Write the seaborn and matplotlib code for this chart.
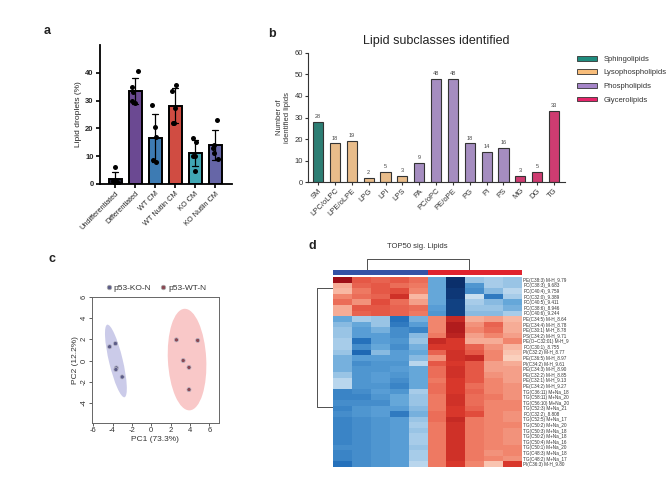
import numpy as np
import pandas as pd
import matplotlib
matplotlib.use("Agg")
import matplotlib.pyplot as plt
import seaborn as sns
from matplotlib.patches import Ellipse, Patch
from matplotlib.colors import ListedColormap, LinearSegmentedColormap
from matplotlib.lines import Line2D

sns.set_theme(style="white")
plt.rcParams['font.family'] = ['Liberation Sans', 'DejaVu Sans']
plt.rcParams['axes.unicode_minus'] = False

# ---------------- data: panel a ----------------
a_groups = ["Undifferentiated", "Differentiated", "WT CM", "WT Nutlin CM", "KO CM", "KO Nutlin CM"]
a_points = [
    [6, 1, 1, 0.5, 0.5],
    [40.5, 35, 33, 30, 29],
    [28.5, 20.5, 17, 8.5, 8],
    [35.5, 33.5, 27.5, 22, 22],
    [16.5, 15, 10, 10, 4.5],
    [23, 14, 13, 11, 9],
]
a_colors = ["#1c1c3c", "#6a3d9e", "#2a7cc6", "#e8382a", "#2cb6c8", "#5b5bb2"]

# ---------------- data: panel b ----------------
b_classes = ["SM", "LPC/oLPC", "LPE/oLPE", "LPG", "LPI", "LPS", "PA", "PC/oPC",
             "PE/oPE", "PG", "PI", "PS", "MG", "DG", "TG"]
b_counts = [28, 18, 19, 2, 5, 3, 9, 48, 48, 18, 14, 16, 3, 5, 33]
b_category = ["Sphingolipids", "Lysophospholipids", "Lysophospholipids", "Lysophospholipids",
              "Lysophospholipids", "Lysophospholipids", "Phospholipids", "Phospholipids",
              "Phospholipids", "Phospholipids", "Phospholipids", "Phospholipids",
              "Glycerolipids", "Glycerolipids", "Glycerolipids"]
b_cat_order = ["Sphingolipids", "Lysophospholipids", "Phospholipids", "Glycerolipids"]
b_cat_colors = ["#1f8c7e", "#f8bd7a", "#a585c8", "#e6246a"]

# ---------------- data: panel c ----------------
c_ko_pc1 = [-4.3, -3.7, -3.6, -3.65, -3.0]
c_ko_pc2 = [1.3, 1.6, -0.7, -0.85, -1.55]
c_wt_pc1 = [2.6, 4.8, 3.3, 3.9, 3.9]
c_wt_pc2 = [1.95, 1.9, 0.0, -0.65, -2.75]
c_groups = ["p53-KO-N", "p53-WT-N"]
c_point_colors = ["#5c5c88", "#8a4852"]
c_ellipse_colors = ["#cbcbe9", "#f9c8c8"]

# ---------------- data: panel d ----------------
d_rows = [
    "PE(C38:3) M-H_9.79", "PC(C38:3)_9.683", "PC(C40:4)_9.759", "PC(C32:0)_9.389",
    "PC(C40:5)_9.411", "PC(C38:6)_8.946", "PC(C40:6)_9.244", "PE(C34:5) M-H_8.64",
    "PE(C34:4) M-H_8.78", "PE(C30:1) M-H_8.78", "PS(C34:2) M-H_9.71", "PE(O\u2212C32:01) M-H_9",
    "PC(C30:1)_8.755", "PI(C32:2) M-H_8.77", "PE(C36:5) M-H_8.97", "PI(C34:2) M-H_9.61",
    "PE(C34:3) M-H_8.90", "PE(C32:2) M-H_8.85", "PE(C32:1) M-H_9.13", "PE(C34:2) M-H_9.27",
    "TG(C36:11) M+Na_18", "TG(C58:11) M+Na_20", "TG(C56:10) M+Na_20", "TG(C52:3) M+Na_21",
    "PC(C32:2)_8.808", "TG(C52:5) M+Na_17", "TG(C50:2) M+Na_20", "TG(C50:3) M+Na_18",
    "TG(C50:2) M+Na_18", "TG(C50:4) M+Na_16", "TG(C50:1) M+Na_20", "TG(C48:3) M+Na_18",
    "TG(C48:2) M+Na_17", "PI(C36:3) M-H_9.80",
]
d_values = [
    [2.2, 1.3, 1.2, 1.3, 1.1, -0.9, -2.2, -0.6, -0.5, -0.6],
    [0.6, 1.2, 1.3, 1.1, 1.0, -0.9, -2.2, -1.1, -0.5, -0.6],
    [0.5, 1.0, 1.3, 1.4, 0.9, -0.9, -2.1, -1.2, -0.7, -0.4],
    [0.9, 1.1, 1.2, 1.7, 0.5, -0.9, -2.1, -0.3, -1.4, -0.5],
    [1.1, 0.8, 1.4, 1.1, 0.7, -0.9, -2.0, -0.5, -0.7, -0.9],
    [0.6, 1.3, 1.3, 1.2, 1.1, -1.0, -2.0, -0.6, -0.6, -0.8],
    [0.6, 1.2, 1.3, 1.2, 1.0, -1.1, -2.0, -0.7, -0.7, -0.5],
    [-0.9, -0.5, -0.6, -1.5, -0.8, 0.9, 1.8, 0.6, 0.7, 0.5],
    [-0.7, -0.9, -0.6, -1.4, -1.0, 0.9, 2.0, 0.8, 1.2, 0.6],
    [-0.6, -1.0, -0.8, -1.2, -1.3, 0.9, 2.0, 0.9, 1.1, 0.6],
    [-0.6, -1.0, -1.0, -1.2, -0.7, 1.0, 1.9, 0.7, 0.9, 0.7],
    [-0.5, -1.5, -1.0, -1.1, -0.6, 1.8, 1.6, 0.6, 0.6, 0.9],
    [-0.5, -1.2, -0.9, -1.2, -0.8, 1.6, 1.6, 1.2, 0.8, 0.5],
    [-0.6, -1.6, -0.7, -1.0, -0.9, 1.2, 1.7, 1.3, 0.9, 0.4],
    [-0.8, -1.0, -1.0, -1.0, -0.7, 0.8, 1.7, 1.8, 0.9, 0.3],
    [-0.8, -1.2, -1.1, -1.1, -0.4, 1.3, 1.6, 1.3, 0.7, 0.6],
    [-0.8, -1.1, -1.1, -1.0, -0.9, 1.1, 1.7, 1.3, 0.7, 0.7],
    [-0.6, -1.1, -1.0, -1.1, -0.9, 1.1, 1.7, 1.3, 0.8, 0.7],
    [-0.4, -1.1, -1.0, -1.2, -0.9, 1.0, 1.6, 1.3, 0.9, 0.7],
    [-0.4, -1.1, -1.1, -1.3, -0.9, 1.1, 1.6, 1.1, 0.9, 0.8],
    [-1.3, -1.2, -1.0, -1.1, -0.5, 1.1, 1.6, 1.2, 0.9, 0.8],
    [-1.3, -1.3, -1.1, -0.9, -0.6, 1.0, 1.7, 1.1, 1.0, 0.8],
    [-1.2, -1.2, -1.2, -0.9, -0.6, 1.0, 1.7, 1.1, 0.9, 0.9],
    [-1.3, -1.1, -1.0, -1.0, -0.7, 1.0, 1.6, 1.2, 0.9, 0.9],
    [-1.2, -1.1, -1.0, -1.4, -0.8, 1.1, 1.6, 1.4, 0.9, 0.8],
    [-1.3, -1.2, -1.1, -1.0, -0.6, 1.1, 1.8, 1.0, 0.9, 0.8],
    [-1.3, -1.2, -1.1, -1.0, -0.5, 1.0, 1.7, 1.0, 0.9, 0.9],
    [-1.3, -1.2, -1.1, -1.0, -0.6, 1.0, 1.7, 1.0, 0.9, 0.8],
    [-1.3, -1.2, -1.1, -1.0, -0.5, 1.0, 1.7, 1.0, 0.9, 0.8],
    [-1.3, -1.2, -1.1, -1.0, -0.5, 1.0, 1.7, 1.0, 0.9, 0.8],
    [-1.2, -1.2, -1.1, -1.0, -0.6, 1.0, 1.7, 1.0, 0.9, 0.9],
    [-1.3, -1.2, -1.1, -1.0, -0.5, 1.0, 1.7, 1.0, 0.8, 0.9],
    [-1.3, -1.2, -1.1, -1.0, -0.5, 1.0, 1.7, 1.0, 0.9, 0.8],
    [-1.5, -1.2, -1.1, -1.0, -0.4, 1.0, 1.6, 0.9, 0.4, 1.6],
]
d_col_groups = [0, 0, 0, 0, 0, 1, 1, 1, 1, 1]
d_group_colors = ["#3553a6", "#e0232e"]
d_cmap_colors = ["#0b2f6b", "#1f6cb8", "#5fa3d8", "#c8dff0", "#fbd0bc", "#f08068",
                 "#dc3a2c", "#9e0f17"]
d_col_merge = [1.8, 7.2]      # column-dendrogram branch positions (column units)
d_row_merge = [1.9, 23.2]     # row-dendrogram branch positions (row units)

# ================= figure =================
W, H = 672, 487
fig = plt.figure(figsize=(W / 100, H / 100), dpi=100)
fig.patch.set_facecolor("white")

def box(l, t, r, b):
    return [l / W, 1 - b / H, (r - l) / W, (b - t) / H]

# ---------- panel a ----------
axa = fig.add_axes(box(100, 45, 232, 184))
dfa = pd.DataFrame({"group": np.repeat(a_groups, [len(p) for p in a_points]),
                    "value": np.concatenate(a_points)})
sns.barplot(data=dfa, x="group", y="value", hue="group", palette=a_colors, order=a_groups,
            errorbar="sd", capsize=0.3, width=0.65, edgecolor="black", linewidth=1.4,
            err_kws={"color": "black", "linewidth": 0.9}, legend=False, ax=axa)
np.random.seed(3)
sns.stripplot(data=dfa, x="group", y="value", order=a_groups, color="black", size=3.6,
              jitter=0.18, ax=axa, zorder=5)
axa.set_xlim(-0.75, 5.85)
axa.set_ylim(0, 50)
axa.set_yticks([0, 10, 20, 30, 40])
axa.set_xlabel("")
axa.set_ylabel("Lipid droplets (%)", fontsize=6, labelpad=2)
sns.despine(ax=axa)
for s in ["left", "bottom"]:
    axa.spines[s].set_linewidth(1.3)
    axa.spines[s].set_color("black")
axa.tick_params(axis="both", length=3, width=1.2, color="black", labelsize=5.5, pad=1.5,
                bottom=True, left=True)
for t in axa.get_yticklabels():
    t.set_fontweight("bold")
axa.set_xticks(range(len(a_groups)))
axa.set_xticklabels(a_groups, rotation=45, ha="right", rotation_mode="anchor", fontsize=5.3)

# ---------- panel b ----------
axb = fig.add_axes(box(308, 52.7, 565, 182.3))
dfb = pd.DataFrame({"cls": b_classes, "n": b_counts, "cat": b_category})
sns.barplot(data=dfb, x="cls", y="n", hue="cat", hue_order=b_cat_order, palette=b_cat_colors,
            order=b_classes, dodge=False, width=0.6, edgecolor="#333333", linewidth=0.8,
            legend=False, ax=axb)
for cont in axb.containers:
    axb.bar_label(cont, fontsize=4, color="#444444", padding=2)
axb.set_xlim(-0.6, 14.65)
axb.set_ylim(0, 60)
axb.set_yticks(range(0, 61, 10))
axb.set_xlabel("")
axb.set_ylabel("Number of\nidentified lipids", fontsize=5.5, labelpad=3, color="#333333")
sns.despine(ax=axb)
for s in ["left", "bottom"]:
    axb.spines[s].set_linewidth(0.8)
    axb.spines[s].set_color("#333333")
axb.tick_params(axis="both", length=2.5, width=0.8, color="#333333", labelsize=5.5, pad=1,
                bottom=True, left=True, labelcolor="#333333")
axb.set_xticks(range(len(b_classes)))
axb.set_xticklabels(b_classes, rotation=45, ha="right", rotation_mode="anchor", fontsize=5.5)
axb.set_title("Lipid subclasses identified", fontsize=9, color="#222222", pad=6)
handles = [Patch(facecolor=c, edgecolor="#333333", linewidth=0.6, label=l)
           for l, c in zip(b_cat_order, b_cat_colors)]
axb.legend(handles=handles, loc="upper left", bbox_to_anchor=(1.02, 1.03), frameon=False,
           fontsize=5.5, handlelength=2.6, handleheight=0.6, labelspacing=0.85,
           handletextpad=0.9, labelcolor="#333333")

# ---------- panel c ----------
axc = fig.add_axes(box(91.7, 297, 219, 423))
dfc = pd.DataFrame({"PC1": c_ko_pc1 + c_wt_pc1, "PC2": c_ko_pc2 + c_wt_pc2,
                    "group": [c_groups[0]] * len(c_ko_pc1) + [c_groups[1]] * len(c_wt_pc1)})

def conf_ellipse(x, y, color, k=np.sqrt(5.991)):
    cov = np.cov(x, y)
    vals, vecs = np.linalg.eigh(cov)
    order = vals.argsort()[::-1]
    vals, vecs = vals[order], vecs[:, order]
    angle = np.degrees(np.arctan2(vecs[1, 0], vecs[0, 0]))
    w, h = 2 * k * np.sqrt(vals)
    return Ellipse((np.mean(x), np.mean(y)), w, h, angle=angle, facecolor=color,
                   edgecolor="none", zorder=1)

axc.add_patch(conf_ellipse(c_ko_pc1, c_ko_pc2, c_ellipse_colors[0]))
axc.add_patch(conf_ellipse(c_wt_pc1, c_wt_pc2, c_ellipse_colors[1]))
sns.scatterplot(data=dfc, x="PC1", y="PC2", hue="group", palette=c_point_colors, s=9,
                edgecolor="#b8b8c8", linewidth=0.5, ax=axc, zorder=3, legend=False)
axc.set_xlim(-6.15, 7.0)
axc.set_ylim(-5.9, 6.0)
axc.set_xticks(range(-6, 7, 2))
axc.set_yticks(range(-4, 7, 2))
axc.set_xlabel("PC1 (73.3%)", fontsize=6, labelpad=1, color="#333333")
axc.set_ylabel("PC2 (12.2%)", fontsize=6, labelpad=1, color="#333333")
for s in axc.spines.values():
    s.set_color("#666666")
    s.set_linewidth(0.7)
axc.tick_params(axis="both", length=2, width=0.6, color="#444444", labelsize=5.5, pad=1,
                bottom=True, left=True, labelcolor="#333333")
for t in axc.get_yticklabels():
    t.set_rotation(90)
    t.set_va("center")
leg_h = [Line2D([], [], marker="o", linestyle="", markersize=3.2, markerfacecolor=c,
                markeredgecolor="#aaaaaa", markeredgewidth=0.6, label=g)
         for g, c in zip(c_groups, c_point_colors)]
axc.legend(handles=leg_h, loc="lower center", bbox_to_anchor=(0.5, 1.0), ncol=2,
           frameon=False, fontsize=6, handletextpad=0.05, columnspacing=1.0,
           handlelength=1.0, borderaxespad=0.2, labelcolor="#333333")

# ---------- panel d ----------
axh = fig.add_axes(box(333, 277, 522, 467))
dfd = pd.DataFrame(d_values, index=d_rows)
hm_cmap = LinearSegmentedColormap.from_list("hm", d_cmap_colors)
sns.heatmap(dfd, cmap=hm_cmap, vmin=-2.2, vmax=2.2, cbar=False, ax=axh,
            xticklabels=False, yticklabels=d_rows)
axh.yaxis.tick_right()
axh.tick_params(axis="y", length=0, labelsize=3.3, pad=1, labelcolor="#333333")
for t in axh.get_yticklabels():
    t.set_rotation(0)

axcol = fig.add_axes(box(333, 270, 522, 275))
sns.heatmap(np.array([d_col_groups]), cmap=ListedColormap(d_group_colors), cbar=False,
            ax=axcol, xticklabels=False, yticklabels=False)

axcd = fig.add_axes(box(333, 259, 522, 269.5))
axcd.plot([d_col_merge[0], d_col_merge[0], d_col_merge[1], d_col_merge[1]], [0, 1, 1, 0],
          color="#333333", lw=0.6)
axcd.set_xlim(0, len(d_col_groups))
axcd.set_ylim(0, 1.02)
axcd.axis("off")

axrd = fig.add_axes(box(317, 277, 333, 467))
axrd.plot([1, 0, 0, 1], [d_row_merge[0], d_row_merge[0], d_row_merge[1], d_row_merge[1]],
          color="#333333", lw=0.6)
axrd.set_xlim(-0.02, 1)
axrd.set_ylim(len(d_rows), 0)
axrd.axis("off")

# ---------- titles / panel letters ----------
fig.text(417 / W, 1 - 247 / H, "TOP50 sig. Lipids", fontsize=5.5, ha="center", va="center",
         color="#333333")
for lab, x, y in [("a", 47, 31), ("b", 272, 34), ("c", 52, 259), ("d", 312, 246)]:
    fig.text(x / W, 1 - y / H, lab, fontsize=9, fontweight="bold", ha="center", va="center",
             color="#222222")

fig.savefig("out.png", dpi=100, facecolor="white")
